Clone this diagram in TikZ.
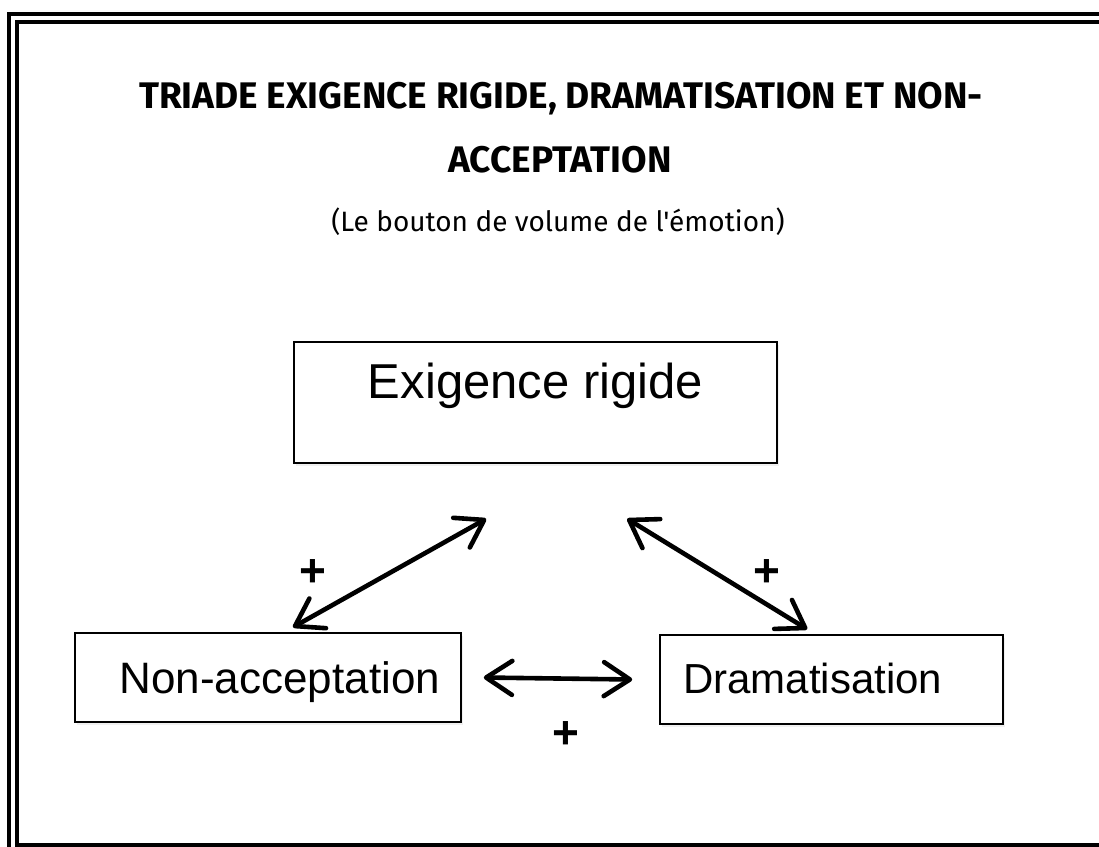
\documentclass[tikz,border=0pt]{standalone}
\usepackage{fontspec}
\setmainfont{Liberation Sans}
\newfontfamily\comicfont{Fira Sans}
\usetikzlibrary{arrows.meta,shadows}

\tikzset{
  box/.style={draw, line width=1.6pt, fill=white, inner ysep=0pt,
    drop shadow={shadow xshift=2pt, shadow yshift=-3pt, opacity=0.12}},
  link/.style={line width=4.6pt, line cap=round,
    {Straight Barb[length=26pt,width=34pt,line cap=round,line join=round]}-{Straight Barb[length=26pt,width=34pt,line cap=round,line join=round]}},
  plus/.style={font=\bfseries\fontsize{46}{46}\selectfont, inner sep=0pt}
}

\begin{document}
\begin{tikzpicture}[x=1pt, y=-1pt]

    \useasboundingbox (0,0) rectangle (1099,846);
    \clip (0,0) rectangle (1099,846);

    % Frame
    \draw[line width=4pt] (9,14) rectangle (1200,852);
    \draw[line width=4pt] (17,22) rectangle (1190,844.5);

    % Title
    \node[font=\comicfont\bfseries\fontsize{37}{37}\selectfont] (title1) at (561,99) {TRIADE EXIGENCE RIGIDE, DRAMATISATION ET NON-};
    \node[font=\comicfont\bfseries\fontsize{37}{37}\selectfont] (title2) at (560,160) {ACCEPTATION};
    \node[font=\comicfont\fontsize{28}{28}\selectfont] (sub) at (558,222) {(Le bouton de volume de l'émotion)};

    % Boxes
    \node[box, font=\fontsize{49}{49}\selectfont, minimum width=483pt,
      text height=56pt, text depth=65pt] (exig) at (535.5,402.5) {Exigence rigide};
    \node[box, font=\fontsize{44}{44}\selectfont, inner xsep=21pt, text width=344pt, align=right,
      text height=60pt, text depth=29pt] (nonacc) at (268,677.5) {Non-acceptation};
    \node[box, font=\fontsize{42}{42}\selectfont, inner xsep=23pt, text width=297pt, align=left,
      text height=58pt, text depth=31pt] (dram) at (831.5,679.5) {Dramatisation};

    % Arrows
    \draw[link] ([xshift=193pt,yshift=-55pt]exig.south west) -- ([xshift=25pt,yshift=5pt]nonacc.north);
    \draw[link] ([xshift=334pt,yshift=-55pt]exig.south west) -- ([xshift=148pt,yshift=5pt]dram.north west);
    \draw[link] ([xshift=22pt]nonacc.east) -- ([xshift=-27pt]dram.west);

    % Signs
    \node[plus] (p1) at (313,573) {+};
    \node[plus] (p2) at (767,573) {+};
    \node[plus] (p3) at (566,735) {+};

\end{tikzpicture}
\end{document}
